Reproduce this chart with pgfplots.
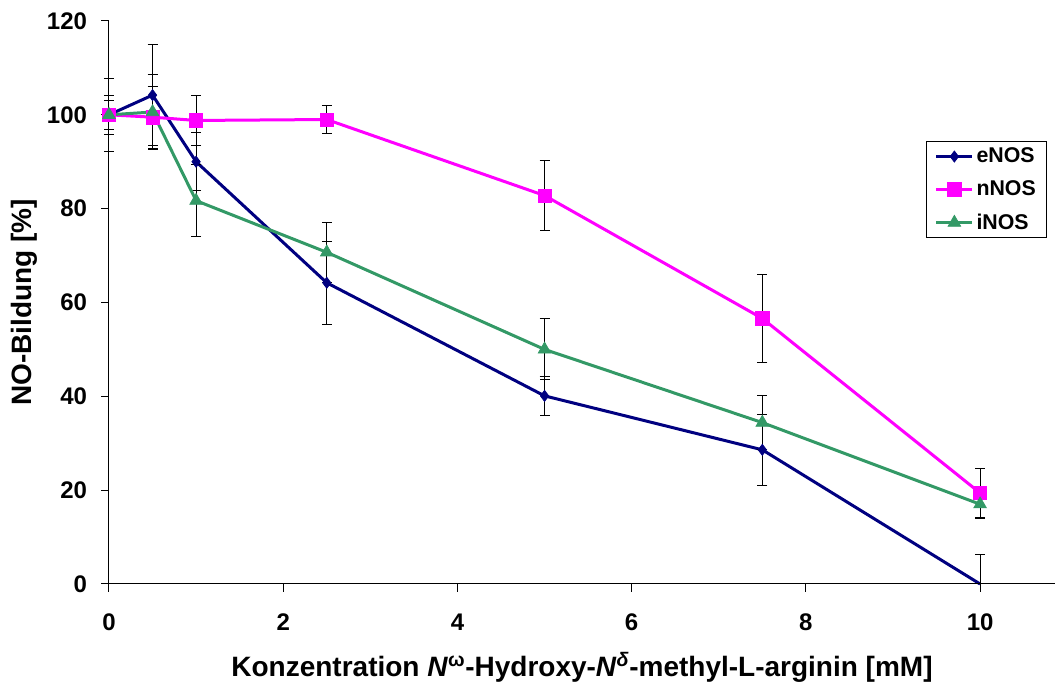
\documentclass[border=0pt]{standalone}
\usepackage{fontspec}
\setmainfont{Liberation Sans}
\usepackage{pgfplots}
\pgfplotsset{compat=1.18}
\definecolor{enos}{RGB}{0,0,128}
\definecolor{nnos}{RGB}{255,0,255}
\definecolor{inos}{RGB}{51,153,102}
\begin{document}
\begin{tikzpicture}
\begin{axis}[
 at={(0,0)}, anchor=south west,
 scale only axis, width=709.5pt, height=422.25pt,
 xmin=0, xmax=10.86, ymin=0, ymax=120,
 axis x line*=bottom, axis y line*=left,
 axis line style={black, line width=0.75pt},
 xtick={0,2,...,10}, ytick={0,20,...,120},
 tick align=outside, major tick length=6pt,
 tick style={black, line width=0.75pt},
 tick label style={font=\fontsize{18}{20}\selectfont\bfseries},
 xticklabel style={yshift=-13pt},
 yticklabel style={xshift=-7pt},
 /pgf/number format/assume math mode=true,
 clip=false,
 xlabel={Konzentration \textit{N}\textsuperscript{ω}-Hydroxy-\textit{N}\textsuperscript{\itshape δ}-methyl-L-arginin [mM]},
 ylabel={NO-Bildung [\%]},
 label style={font=\fontsize{21}{24}\selectfont\bfseries},
 xlabel style={at={(axis description cs:0.5,-0.1474)}, anchor=center},
 ylabel style={at={(axis description cs:-0.0898,0.5)}, anchor=center},
 legend style={at={(axis description cs:0.9915,0.787)}, anchor=north east,
   draw=black, line width=0.75pt, font=\fontsize{16}{18}\selectfont\bfseries,
   inner xsep=6pt, inner ysep=3pt, row sep=8pt},
 legend cell align=left,
 legend image code/.code={\draw[mark indices={2}] plot coordinates {(0pt,0pt) (13.5pt,0pt) (27pt,0pt)};},
 error bars/y dir=both, error bars/y explicit,
 error bars/error bar style={black, line width=0.75pt, solid},
 error bars/error mark options={black, rotate=90, mark size=3.75pt, line width=0.75pt},
]
\addplot[color=enos, line width=2.25pt, mark=diamond*, mark size=4.2pt, mark options={solid, fill=enos, line width=0.5pt}, mark indices={1,2,3,4,5,6}]
 coordinates {(0,100) +- (0,4.2) (0.5,104.2) +- (0,10.7) (1,90.0) +- (0,6.2) (2.5,64.2) +- (0,8.8) (5,40.1) +- (0,4.2) (7.5,28.6) +- (0,7.6) (10,0) += (0,6.2) -= (0,0)};
\addlegendentry{eNOS}
\addplot[color=nnos, line width=2.25pt, mark=square*, mark size=5pt, mark options={solid, fill=nnos, line width=0.5pt}]
 coordinates {(0,100) +- (0,3.1) (0.5,99.5) +- (0,6.6) (1,98.8) +- (0,5.3) (2.5,99.0) +- (0,3.0) (5,82.8) +- (0,7.5) (7.5,56.6) +- (0,9.4) (10,19.4) +- (0,5.2)};
\addlegendentry{nNOS}
\addplot[color=inos, line width=2.25pt, mark=triangle*, mark size=5.5pt, mark options={solid, fill=inos, line width=0.5pt}]
 coordinates {(0,100) +- (0,7.8) (0.5,100.6) +- (0,8.0) (1,81.7) +- (0,7.7) (2.5,70.7) +- (0,6.4) (5,50.0) +- (0,6.5) (7.5,34.4) +- (0,5.7) (10,17.0) +- (0,3.0)};
\addlegendentry{iNOS}
\end{axis}
\pgfresetboundingbox
\path (-81.75pt,-75.75pt) rectangle (710.25pt,438pt);
\end{tikzpicture}
\end{document}
